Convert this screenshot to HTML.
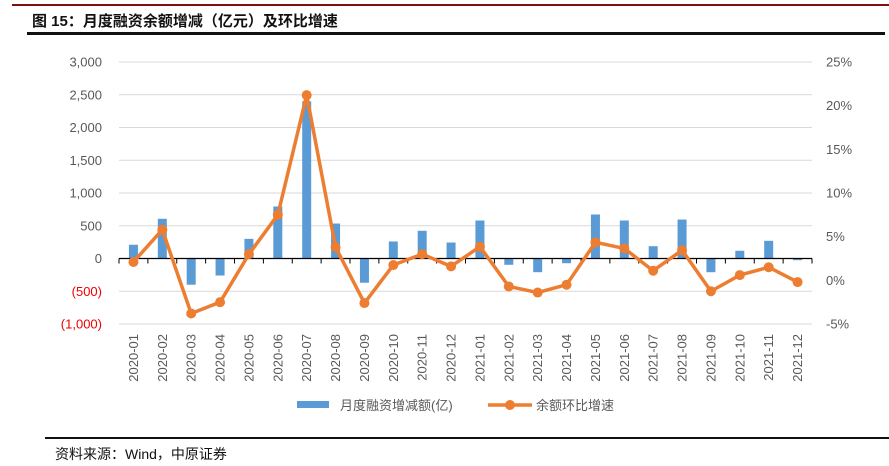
<!DOCTYPE html>
<html><head><meta charset="utf-8"><style>
body{margin:0;background:#fff;width:889px;height:466px;overflow:hidden;position:relative;font-family:"Liberation Sans","Noto Sans CJK SC",sans-serif}
.abs{position:absolute}
</style></head><body>
<div class="abs" style="left:12px;top:4px;width:877px;height:2px;background:#7f1010"></div>
<div class="abs" style="left:32px;top:10px;font-size:15px;font-weight:bold;color:#111;font-family:'Liberation Sans','Noto Sans CJK SC',sans-serif">图 15：月度融资余额增减（亿元）及环比增速</div>
<div class="abs" style="left:27px;top:32px;width:858px;height:3px;background:#111"></div>
<svg class="abs" style="left:0;top:0" width="889" height="466" id="chart"></svg>
<div class="abs" style="left:45px;top:437px;width:844px;height:2px;background:#111"></div>
<div class="abs" style="left:55px;top:444px;font-size:14px;color:#111">资料来源：Wind，中原证券</div>
<script>
const categories=["2020-01","2020-02","2020-03","2020-04","2020-05","2020-06","2020-07","2020-08","2020-09","2020-10","2020-11","2020-12","2021-01","2021-02","2021-03","2021-04","2021-05","2021-06","2021-07","2021-08","2021-09","2021-10","2021-11","2021-12"];
const barValues=[210,606,-400,-260,300,794,2400,534,-370,260,423,244,580,-96,-209,-72,672,580,188,595,-209,118,270,-26];
const lineValues=[2.1,5.8,-3.8,-2.5,3.0,7.5,21.2,3.8,-2.6,1.75,3.0,1.6,3.85,-0.7,-1.4,-0.5,4.35,3.65,1.1,3.45,-1.25,0.6,1.5,-0.2];
const leftTicks=[-1000,-500,0,500,1000,1500,2000,2500,3000];
const leftTickLabels=["(1,000)","(500)","0","500","1,000","1,500","2,000","2,500","3,000"];
const rightTicks=[-5,0,5,10,15,20,25];
const rightTickLabels=["-5%","0%","5%","10%","15%","20%","25%"];
const svg=document.getElementById('chart');
const NS='http://www.w3.org/2000/svg';
const X0=119,X1=812,YT=62,YB=324;
const yL=v=>YB-(v+1000)/4000*(YB-YT);
const yR=v=>YB-(v+5)/30*(YB-YT);
const bw=(X1-X0)/categories.length;
const xC=i=>X0+bw*(i+0.5);
function mk(tag,attrs){const e=document.createElementNS(NS,tag);for(const k in attrs)e.setAttribute(k,attrs[k]);svg.appendChild(e);return e;}
leftTicks.forEach((t,i)=>{
 const g=mk('line',{x1:X0,x2:X1,y1:yL(t),y2:yL(t),stroke:'#d9d9d9','stroke-width':1});
 
 
 const tx=mk('text',{x:102,y:yL(t)+4.5,'text-anchor':'end','font-size':13,fill:t<0?'#e00':'#595959'});
 tx.textContent=leftTickLabels[i];
 
 
});
rightTicks.forEach((t,i)=>{
 const tx=mk('text',{x:826,y:yR(t)+4.5,'font-size':13,fill:'#595959'});
 tx.textContent=rightTickLabels[i];
 
 
});
barValues.forEach((v,i)=>{
 const y0=yL(0),y1=yL(v);
 const r=mk('rect',{x:xC(i)-4.5,y:Math.min(y0,y1),width:9,height:Math.abs(y1-y0),fill:'#5b9bd5'});
 
 
});
const ax=mk('line',{x1:X0,x2:X1,y1:yL(0),y2:yL(0),stroke:'#000','stroke-width':1.2});


for(let i=0;i<=categories.length;i++){
 const tk=mk('line',{x1:X0+bw*i,x2:X0+bw*i,y1:yL(0),y2:yL(0)+5,stroke:'#000','stroke-width':1});
 
 
}
categories.forEach((c,i)=>{
 const tx=mk('text',{x:0,y:0,'text-anchor':'end','font-size':13,fill:'#595959',transform:`translate(${xC(i)+4.5},334) rotate(-90)`});
 tx.textContent=c;
 
 
});
const pts=lineValues.map((v,i)=>xC(i)+','+yR(v)).join(' ');
const pl=mk('polyline',{points:pts,fill:'none',stroke:'#ed7d31','stroke-width':3.5,'stroke-linejoin':'round'});


lineValues.forEach((v,i)=>{
 const c=mk('circle',{cx:xC(i),cy:yR(v),r:5,fill:'#ed7d31'});
 
 
});
const lb=mk('rect',{x:297,y:401,width:32,height:7,fill:'#5b9bd5'});


const lt1=mk('text',{x:340,y:410,'font-size':13,fill:'#595959'});
lt1.textContent='月度融资增减额(亿)';


const ll=mk('line',{x1:488,x2:532,y1:405,y2:405,stroke:'#ed7d31','stroke-width':3.5});


const lc=mk('circle',{cx:510,cy:405,r:5,fill:'#ed7d31'});


const lt2=mk('text',{x:536,y:410,'font-size':13,fill:'#595959'});
lt2.textContent='余额环比增速';


</script>
</body></html>
